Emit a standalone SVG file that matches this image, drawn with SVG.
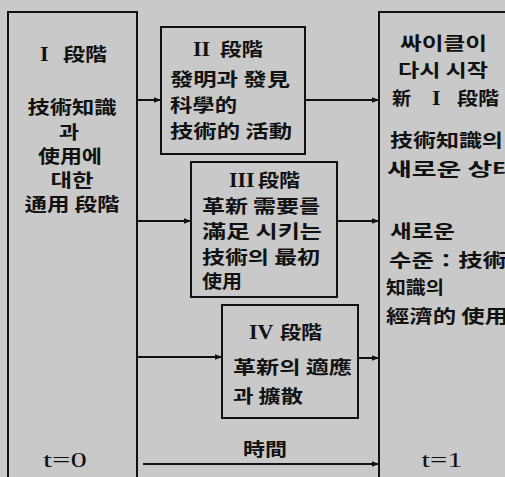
<svg xmlns="http://www.w3.org/2000/svg" width="505" height="477" viewBox="0 0 505 477">
<defs>
<marker id="ah" viewBox="0 0 10 10" refX="10" refY="5" markerWidth="10" markerHeight="7" markerUnits="userSpaceOnUse" orient="auto">
<path d="M0,1 L10,5 L0,9 Z" fill="#111"/>
</marker>
</defs>
<style>
.box{fill:none;stroke:#111;stroke-width:2}
.conn{stroke:#111;stroke-width:2;fill:none;marker-end:url(#ah)}
.k{font-family:"Noto Sans CJK KR","Noto Sans CJK SC",sans-serif;font-size:18px;fill:#111;font-weight:bold}
.r{font-family:"Liberation Serif",serif;font-size:22px;fill:#111}
.rb{font-weight:bold}
.c{text-anchor:middle}
</style>
<rect width="505" height="477" fill="#c9c9c9"/>

<g id="stage1">
<rect class="box" x="8" y="12" width="129" height="480"/>
<text class="r rb" x="40" y="61">I</text>
<text class="k" x="63" y="61" textLength="44" lengthAdjust="spacingAndGlyphs">段階</text>
<text class="k c" x="72" y="114" textLength="89" lengthAdjust="spacingAndGlyphs">技術知識</text>
<text class="k c" x="69" y="139" textLength="20" lengthAdjust="spacingAndGlyphs">과</text>
<text class="k c" x="70" y="163" textLength="64" lengthAdjust="spacingAndGlyphs">使用에</text>
<text class="k c" x="72" y="187" textLength="43" lengthAdjust="spacingAndGlyphs">대한</text>
<text class="k c" x="72" y="211" textLength="95" lengthAdjust="spacingAndGlyphs">通用 段階</text>
<text class="r c" x="65" y="467" textLength="44" lengthAdjust="spacingAndGlyphs">t=0</text>
</g>

<g id="stage2">
<rect class="box" x="161" y="27" width="144" height="127"/>
<text class="r rb" x="193" y="56">II</text>
<text class="k" x="220" y="56" textLength="43" lengthAdjust="spacingAndGlyphs">段階</text>
<text class="k" x="170" y="86" textLength="120" lengthAdjust="spacingAndGlyphs">發明과 發見</text>
<text class="k" x="170" y="112" textLength="67" lengthAdjust="spacingAndGlyphs">科學的</text>
<text class="k" x="170" y="138" textLength="122" lengthAdjust="spacingAndGlyphs">技術的 活動</text>
</g>

<g id="stage3">
<rect class="box" x="191" y="162" width="146" height="135"/>
<text class="r rb" x="229" y="187">III</text>
<text class="k" x="258" y="187" textLength="42" lengthAdjust="spacingAndGlyphs">段階</text>
<text class="k" x="202" y="213" textLength="118" lengthAdjust="spacingAndGlyphs">革新 需要를</text>
<text class="k" x="202" y="238" textLength="120" lengthAdjust="spacingAndGlyphs">滿足 시키는</text>
<text class="k" x="202" y="264" textLength="118" lengthAdjust="spacingAndGlyphs">技術의 最初</text>
<text class="k" x="202" y="288" textLength="40" lengthAdjust="spacingAndGlyphs">使用</text>
</g>

<g id="stage4">
<rect class="box" x="222" y="305" width="136" height="113"/>
<text class="r rb" x="249" y="339">IV</text>
<text class="k" x="280" y="339" textLength="42" lengthAdjust="spacingAndGlyphs">段階</text>
<text class="k" x="233" y="374" textLength="119" lengthAdjust="spacingAndGlyphs">革新의 適應</text>
<text class="k" x="233" y="403" textLength="70" lengthAdjust="spacingAndGlyphs">과 擴散</text>
</g>

<g id="newcycle">
<rect class="box" x="379" y="12" width="200" height="480"/>
<text class="k" x="400" y="50" textLength="87" lengthAdjust="spacingAndGlyphs">싸이클이</text>
<text class="k" x="398" y="77" textLength="90" lengthAdjust="spacingAndGlyphs">다시 시작</text>
<text class="k" x="392" y="105" textLength="19" lengthAdjust="spacingAndGlyphs">新</text>
<text class="r rb" x="432" y="105">I</text>
<text class="k" x="457" y="105" textLength="42" lengthAdjust="spacingAndGlyphs">段階</text>
<text class="k" x="390" y="147" textLength="113" lengthAdjust="spacingAndGlyphs">技術知識의</text>
<text class="k" x="387" y="176" textLength="130" lengthAdjust="spacingAndGlyphs">새로운 상태</text>
<text class="k" x="390" y="238" textLength="65" lengthAdjust="spacingAndGlyphs">새로운</text>
<text class="k" x="389" y="267" textLength="118" lengthAdjust="spacingAndGlyphs">수준：技術</text>
<text class="k" x="386" y="294" textLength="58" lengthAdjust="spacingAndGlyphs">知識의</text>
<text class="k" x="386" y="323" textLength="122" lengthAdjust="spacingAndGlyphs">經濟的 使用</text>
<text class="r c" x="442" y="467" textLength="41" lengthAdjust="spacingAndGlyphs">t=1</text>
</g>

<g id="connectors">
<line class="conn" x1="137" y1="100" x2="161" y2="100"/>
<line class="conn" x1="305" y1="100" x2="379" y2="100"/>
<line class="conn" x1="137" y1="221" x2="191" y2="221"/>
<line class="conn" x1="337" y1="221" x2="379" y2="221"/>
<line class="conn" x1="137" y1="357" x2="222" y2="357"/>
<line class="conn" x1="358" y1="358" x2="379" y2="358"/>
<line class="conn" x1="143" y1="464" x2="379" y2="464"/>
<text class="k c" x="265" y="456" textLength="44" lengthAdjust="spacingAndGlyphs">時間</text>
</g>
</svg>
